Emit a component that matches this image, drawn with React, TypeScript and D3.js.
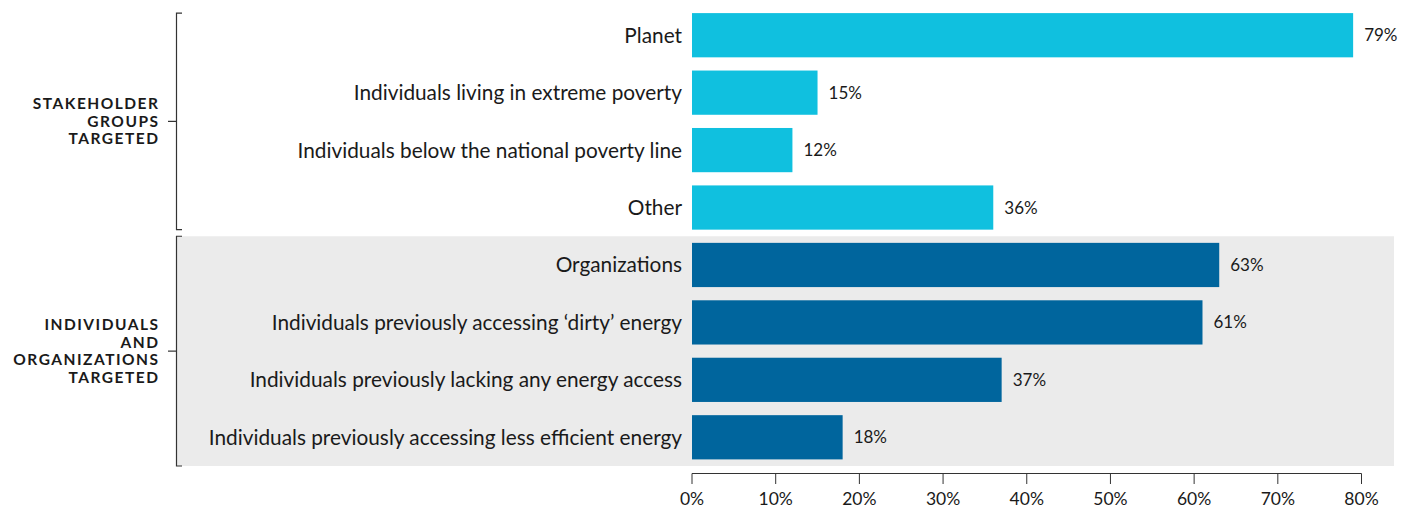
import React from "react";
import * as d3 from "d3";

const categories = [
  "Planet",
  "Individuals living in extreme poverty",
  "Individuals below the national poverty line",
  "Other",
  "Organizations",
  "Individuals previously accessing ‘dirty’ energy",
  "Individuals previously lacking any energy access",
  "Individuals previously accessing less efficient energy",
];
const values = [79, 15, 12, 36, 63, 61, 37, 18];
const groupOf = [0, 0, 0, 0, 1, 1, 1, 1];
const groupLabels = [
  ["STAKEHOLDER", "GROUPS", "TARGETED"],
  ["INDIVIDUALS", "AND", "ORGANIZATIONS", "TARGETED"],
];
const groupColors = ["#10c0df", "#00659d"];
const ticks = [0, 10, 20, 30, 40, 50, 60, 70, 80];

const W = 1403;
const H = 509;

export default function App() {
  const x = d3.scaleLinear().domain([0, 80]).range([692, 1361.5]);
  const y = d3
    .scaleBand<string>()
    .domain(categories)
    .range([6.5, 466])
    .paddingInner(0.23)
    .paddingOuter(0.115);
  const step = y.step();
  const bw = y.bandwidth();
  const font = "Lato, 'Open Sans', sans-serif";

  const groupRanges = [0, 1].map((g) => {
    const idx = categories.map((c, i) => i).filter((i) => groupOf[i] === g);
    const first = categories[idx[0]];
    const last = categories[idx[idx.length - 1]];
    return {
      top: (y(first) as number) - (g === 0 ? 0 : (step - bw) / 2),
      bottom: (y(last) as number) + bw + (g === 0 ? 0 : (step - bw) / 2),
    };
  });

  return (
    <div style={{ position: "absolute", left: 0, top: 0 }}>
      <svg width={W} height={H} style={{ display: "block" }}>
        <rect width={W} height={H} fill="#ffffff" />
        <rect
          x={176}
          y={groupRanges[1].top}
          width={1394 - 176}
          height={groupRanges[1].bottom - groupRanges[1].top}
          fill="#ebebeb"
        />
        {groupRanges.map((r, g) => {
          const mid = (r.top + r.bottom) / 2;
          return (
            <g key={g} stroke="#333" strokeWidth={1.2} fill="none">
              <path d={`M182,${r.top}H176.5V${r.bottom}H182`} />
              <path d={`M168,${mid}H176.5`} />
            </g>
          );
        })}
        {groupLabels.map((lines, g) => {
          const r = groupRanges[g];
          const mid = (r.top + r.bottom) / 2;
          const lh = 17.5;
          const start = mid - ((lines.length - 1) * lh) / 2;
          return (
            <text
              key={g}
              textAnchor="end"
              fontFamily={font}
              fontWeight={700}
              fontSize={15.5}
              letterSpacing={1.5}
              fill="#1a1a1a"
            >
              {lines.map((l, i) => (
                <tspan key={i} x={159.5} y={start + i * lh + 5.5}>
                  {l}
                </tspan>
              ))}
            </text>
          );
        })}
        {categories.map((c, i) => {
          const yy = y(c) as number;
          return (
            <g key={c}>
              <rect
                x={x(0)}
                y={yy}
                width={x(values[i]) - x(0)}
                height={bw}
                fill={groupColors[groupOf[i]]}
              />
              <text
                x={682}
                y={yy + bw / 2 + 7.5}
                textAnchor="end"
                fontFamily={font}
                fontSize={20.8}
                fill="#1a1a1a"
              >
                {c}
              </text>
              <text
                x={x(values[i]) + 11}
                y={yy + bw / 2 + 6}
                fontFamily={font}
                fontSize={17}
                fill="#1a1a1a"
              >
                {values[i]}%
              </text>
            </g>
          );
        })}
        <g>
          <line x1={x(0)} x2={x(80)} y1={473.5} y2={473.5} stroke="#333" strokeWidth={1} />
          {ticks.map((t) => (
            <g key={t}>
              <line x1={x(t)} x2={x(t)} y1={473.5} y2={484} stroke="#333" strokeWidth={1} />
              <text
                x={x(t)}
                y={505}
                textAnchor="middle"
                fontFamily={font}
                fontSize={17.5}
                fill="#1a1a1a"
              >
                {t}%
              </text>
            </g>
          ))}
        </g>
      </svg>
    </div>
  );
}
